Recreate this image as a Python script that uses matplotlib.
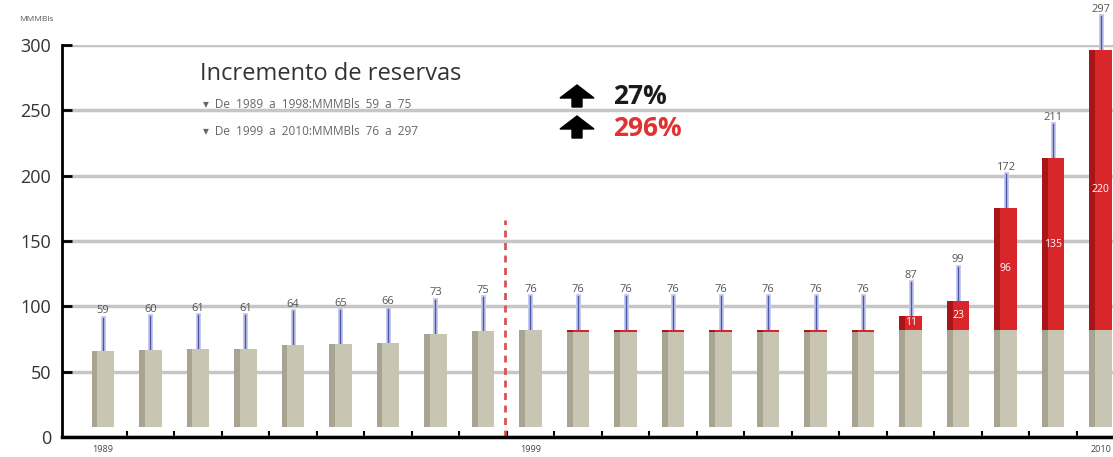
import numpy as np
import matplotlib
matplotlib.use("Agg")
import matplotlib.pyplot as plt
from matplotlib.patches import FancyArrow

# data
years = list(range(1989, 2011))
base = [59, 60, 61, 61, 64, 65, 66, 73, 75, 76, 74, 74, 74, 74, 74, 74, 74, 76, 76, 76, 76, 76]
increment = [0, 0, 0, 0, 0, 0, 0, 0, 0, 0, 2, 2, 2, 2, 2, 2, 2, 11, 23, 96, 135, 220]
totals = [59, 60, 61, 61, 64, 65, 66, 73, 75, 76, 76, 76, 76, 76, 76, 76, 76, 87, 99, 172, 211, 297]
shown_years = {0: "1989", 9: "1999", 21: "2010"}
notes = ["De  1989  a  1998:MMMBls  59  a  75", "De  1999  a  2010:MMMBls  76  a  297"]

# the cylinders stand on a small plinth, squeezed so 300 still reaches the top line
BASE = 8
SQUEEZE = (300 - BASE) / 300
GRAY, GRAY_DARK = "#c9c5b3", "#a8a491"
RED, RED_DARK = "#d8262a", "#a81418"

plt.rcParams["font.family"] = ["Open Sans", "DejaVu Sans"]

fig = plt.figure(figsize=(11.13, 4.57), dpi=100)
ax = fig.add_axes([0.0557, 0.0438, 0.9443, 0.8577])

x = np.arange(len(years))
w = 0.47
hb = np.array(base) * SQUEEZE
hi = np.array(increment) * SQUEEZE
ax.bar(x, hb, w, bottom=BASE, color=GRAY, zorder=3, clip_on=False)
ax.bar(x - w / 2 + 0.06, hb, 0.12, bottom=BASE, color=GRAY_DARK, zorder=3, clip_on=False)
tops_gray = hb + BASE
ax.bar(x, hi, w, bottom=tops_gray, color=RED, zorder=3, clip_on=False)
ax.bar(x - w / 2 + 0.06, hi, 0.12, bottom=tops_gray, color=RED_DARK, zorder=3, clip_on=False)

tops = tops_gray + hi
for i in range(len(years)):
    # connector line + value label
    ax.plot([x[i], x[i]], [tops[i], tops[i] + 26], color="#c3c9ee", lw=3.5, zorder=2, clip_on=False)
    ax.plot([x[i], x[i]], [tops[i], tops[i] + 26], color="#4a55a8", lw=1, zorder=2, clip_on=False)
    ax.text(x[i], tops[i] + 27, str(totals[i]), ha="center", va="bottom", fontsize=8, color="#555555")
    if increment[i] > 5:
        ax.text(x[i], tops_gray[i] + hi[i] / 2, str(increment[i]), ha="center", va="center",
                fontsize=7.5, color="white", zorder=4)

# division between periods
ax.plot([8.46, 8.46], [0, 166], color="#d9534f", lw=2, ls=(0, (2.5, 2)), zorder=2)

ax.set_xlim(-0.86, 21.26)
ax.set_ylim(0, 300)
ax.set_yticks(range(0, 301, 50))
ax.yaxis.grid(True, color="#c6c6c6", lw=2.5, zorder=0)
ax.set_axisbelow(True)
ax.tick_params(axis="y", direction="in", length=7, width=2, labelsize=13, labelcolor="#333333", pad=8)
ax.set_xticks(list(shown_years.keys()))
ax.set_xticklabels(list(shown_years.values()), fontsize=6.5, color="#444444")
ax.set_xticks(x[:-1] + 0.5, minor=True)
ax.tick_params(axis="x", which="major", length=0, pad=6)
ax.tick_params(axis="x", which="minor", direction="in", length=4, width=1.5)
for s in ["top", "right"]:
    ax.spines[s].set_visible(False)
ax.spines["left"].set_linewidth(2)
ax.spines["bottom"].set_linewidth(2.5)

fig.text(0.017, 0.955, "MMMBls", fontsize=6, color="#555555")

fig.text(0.180, 0.825, "Incremento de reservas", fontsize=17, color="#333333")
for k, note in enumerate(notes):
    fig.text(0.182, 0.772 - k * 0.06, "\u25be  " + note, fontsize=8.5, color="#666666", va="center")

# fat up arrows
for y0 in (3.50, 3.19):
    fig.patches.append(FancyArrow(5.77, y0, 0, 0.22, width=0.10, head_width=0.34, head_length=0.13,
                                  length_includes_head=True, color="black",
                                  transform=fig.dpi_scale_trans, figure=fig))
fig.text(0.551, 0.789, "27%", fontsize=19, color="#1a1a1a", va="center", fontweight="bold")
fig.text(0.551, 0.718, "296%", fontsize=19, color="#e03232", va="center", fontweight="bold")

fig.savefig("out.png", dpi=100)
